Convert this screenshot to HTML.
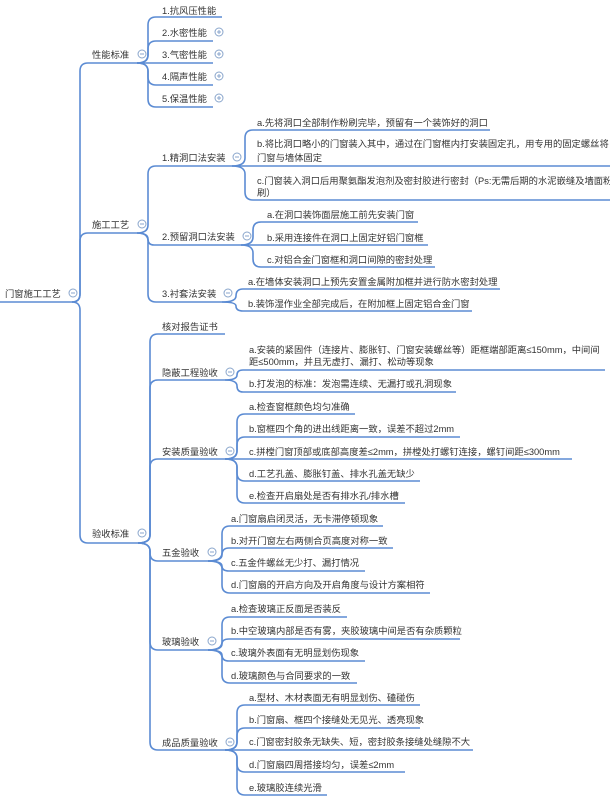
<!DOCTYPE html>
<html><head><meta charset="utf-8"><style>
html,body{margin:0;padding:0;background:#fff;}
svg{display:block;}
text{font-family:"Liberation Sans","Noto Sans CJK SC",sans-serif;font-size:9.3px;fill:#333;}
.l{fill:none;stroke:#5b8bd3;stroke-width:1.6;}
.c{fill:#fff;stroke:#8aa6cc;stroke-width:1;}
.m{stroke:#8aa6cc;stroke-width:1;}
</style></head><body>
<svg width="610" height="801" viewBox="0 0 610 801" xmlns="http://www.w3.org/2000/svg">
<g class="l">
<path d="M0,302 H72"/>
<path d="M72,302 Q80,302 80,294 V71 Q80,63 88,63 H137"/>
<path d="M72,302 Q80,302 80,294 V241 Q80,233 88,233 H137"/>
<path d="M72,302 Q80,302 80,310 V535 Q80,543 88,543 H138"/>
<path d="M137,63 Q148,63 148,55 V25 Q148,17 156,17 H222"/>
<path d="M137,63 Q148,63 148,55 V49 Q148,41 156,41 H213"/>
<path d="M137,63 H213"/>
<path d="M137,63 Q148,63 148,71 V77 Q148,85 156,85 H213"/>
<path d="M137,63 Q148,63 148,71 V99 Q148,107 156,107 H213"/>
<path d="M137,233 Q148,233 148,225 V174 Q148,166 156,166 H232"/>
<path d="M137,233 Q148,233 148,239 Q148,245 154,245 H241"/>
<path d="M137,233 Q148,233 148,241 V294 Q148,302 156,302 H222"/>
<path d="M232,166 Q245,166 245,158 V138 Q245,130 253,130 H490"/>
<path d="M232,166 H610"/>
<path d="M232,166 Q245,166 245,174 V192 Q245,200 253,200 H610"/>
<path d="M241,245 Q253,245 253,237 V230 Q253,222 261,222 H418"/>
<path d="M241,245 H428"/>
<path d="M241,245 Q253,245 253,253 V259 Q253,267 261,267 H435"/>
<path d="M222,302 Q236,302 236,296 Q236,289 243,289 H500"/>
<path d="M222,302 Q236,302 236,306 Q236,311 243,311 H472"/>
<path d="M138,543 Q150,543 150,535 V342 Q150,334 158,334 H225"/>
<path d="M138,543 Q150,543 150,535 V388 Q150,380 158,380 H225"/>
<path d="M138,543 Q150,543 150,535 V467 Q150,459 158,459 H225"/>
<path d="M138,543 Q150,543 150,551 V553 Q150,561 158,561 H208"/>
<path d="M138,543 Q150,543 150,551 V642 Q150,650 158,650 H208"/>
<path d="M138,543 Q150,543 150,551 V742 Q150,750 158,750 H225"/>
<path d="M225,380 Q237,380 237,375 Q237,370 243,370 H605"/>
<path d="M225,380 Q237,380 237,386 Q237,392 243,392 H456"/>
<path d="M225,459 Q237,459 237,451 V422 Q237,414 245,414 H355"/>
<path d="M225,459 Q237,459 237,451 V445 Q237,437 245,437 H460"/>
<path d="M225,459 H572"/>
<path d="M225,459 Q237,459 237,467 V473 Q237,481 245,481 H420"/>
<path d="M225,459 Q237,459 237,467 V495 Q237,503 245,503 H405"/>
<path d="M208,561 Q222,561 222,553 V534 Q222,526 230,526 H383"/>
<path d="M208,561 Q222,561 222,555 Q222,548 229,548 H393"/>
<path d="M208,561 Q222,561 222,566 Q222,571 229,571 H365"/>
<path d="M208,561 Q222,561 222,569 V585 Q222,593 230,593 H430"/>
<path d="M208,650 Q222,650 222,642 V625 Q222,617 230,617 H347"/>
<path d="M208,650 Q222,650 222,644 Q222,639 229,639 H460"/>
<path d="M208,650 Q222,650 222,655 Q222,661 229,661 H365"/>
<path d="M208,650 Q222,650 222,658 V675 Q222,683 230,683 H357"/>
<path d="M225,750 Q237,750 237,742 V713 Q237,705 245,705 H420"/>
<path d="M225,750 Q237,750 237,742 V736 Q237,728 245,728 H420"/>
<path d="M225,750 H473"/>
<path d="M225,750 Q237,750 237,758 V764 Q237,772 245,772 H405"/>
<path d="M225,750 Q237,750 237,758 V787 Q237,795 245,795 H327"/>
</g>
<g>
<circle class="c" cx="73" cy="293" r="4"/><line class="m" x1="71" y1="293" x2="75" y2="293"/>
<circle class="c" cx="142" cy="54" r="4"/><line class="m" x1="140" y1="54" x2="144" y2="54"/>
<circle class="c" cx="142" cy="224" r="4"/><line class="m" x1="140" y1="224" x2="144" y2="224"/>
<circle class="c" cx="142" cy="533" r="4"/><line class="m" x1="140" y1="533" x2="144" y2="533"/>
<circle class="c" cx="219" cy="32" r="4"/><path class="m" d="M217,32H221M219,30V34"/>
<circle class="c" cx="219" cy="54" r="4"/><path class="m" d="M217,54H221M219,52V56"/>
<circle class="c" cx="219" cy="76" r="4"/><path class="m" d="M217,76H221M219,74V78"/>
<circle class="c" cx="219" cy="98" r="4"/><path class="m" d="M217,98H221M219,96V100"/>
<circle class="c" cx="237" cy="157" r="4"/><line class="m" x1="235" y1="157" x2="239" y2="157"/>
<circle class="c" cx="247" cy="236" r="4"/><line class="m" x1="245" y1="236" x2="249" y2="236"/>
<circle class="c" cx="228" cy="293" r="4"/><line class="m" x1="226" y1="293" x2="230" y2="293"/>
<circle class="c" cx="230" cy="372" r="4"/><line class="m" x1="228" y1="372" x2="232" y2="372"/>
<circle class="c" cx="230" cy="451" r="4"/><line class="m" x1="228" y1="451" x2="232" y2="451"/>
<circle class="c" cx="212" cy="552" r="4"/><line class="m" x1="210" y1="552" x2="214" y2="552"/>
<circle class="c" cx="212" cy="641" r="4"/><line class="m" x1="210" y1="641" x2="214" y2="641"/>
<circle class="c" cx="230" cy="742" r="4"/><line class="m" x1="228" y1="742" x2="232" y2="742"/>
</g>
<g>
<text x="5" y="297">门窗施工工艺</text>
<text x="92" y="58">性能标准</text>
<text x="92" y="228">施工工艺</text>
<text x="92" y="537">验收标准</text>
<text x="162" y="14">1.抗风压性能</text>
<text x="162" y="36">2.水密性能</text>
<text x="162" y="58">3.气密性能</text>
<text x="162" y="80">4.隔声性能</text>
<text x="162" y="102">5.保温性能</text>
<text x="162" y="161">1.精洞口法安装</text>
<text x="162" y="240">2.预留洞口法安装</text>
<text x="162" y="297">3.衬套法安装</text>
<text x="257" y="126">a.先将洞口全部制作粉刷完毕，预留有一个装饰好的洞口</text>
<text x="257" y="147">b.将比洞口略小的门窗装入其中，通过在门窗框内打安装固定孔，用专用的固定螺丝将</text>
<text x="257" y="161">门窗与墙体固定</text>
<text x="257" y="184">c.门窗装入洞口后用聚氨酯发泡剂及密封胶进行密封（Ps:无需后期的水泥嵌缝及墙面粉</text>
<text x="257" y="196">刷）</text>
<text x="267" y="218">a.在洞口装饰面层施工前先安装门窗</text>
<text x="267" y="241">b.采用连接件在洞口上固定好铝门窗框</text>
<text x="267" y="263">c.对铝合金门窗框和洞口间隙的密封处理</text>
<text x="248" y="285">a.在墙体安装洞口上预先安置金属附加框并进行防水密封处理</text>
<text x="248" y="307">b.装饰湿作业全部完成后，在附加框上固定铝合金门窗</text>
<text x="162" y="330">核对报告证书</text>
<text x="162" y="376">隐蔽工程验收</text>
<text x="162" y="455">安装质量验收</text>
<text x="162" y="556">五金验收</text>
<text x="162" y="645">玻璃验收</text>
<text x="162" y="746">成品质量验收</text>
<text x="249" y="353">a.安装的紧固件（连接片、膨胀钉、门窗安装螺丝等）距框端部距离≤150mm，中间间</text>
<text x="249" y="365">距≤500mm，并且无虚打、漏打、松动等现象</text>
<text x="249" y="387">b.打发泡的标准：发泡需连续、无漏打或孔洞现象</text>
<text x="249" y="410">a.检查窗框颜色均匀准确</text>
<text x="249" y="432">b.窗框四个角的进出线距离一致，误差不超过2mm</text>
<text x="249" y="455">c.拼樘门窗顶部或底部高度差≤2mm，拼樘处打螺钉连接，螺钉间距≤300mm</text>
<text x="249" y="477">d.工艺孔盖、膨胀钉盖、排水孔盖无缺少</text>
<text x="249" y="499">e.检查开启扇处是否有排水孔/排水槽</text>
<text x="231" y="522">a.门窗扇启闭灵活，无卡滞停顿现象</text>
<text x="231" y="544">b.对开门窗左右两侧合页高度对称一致</text>
<text x="231" y="566">c.五金件螺丝无少打、漏打情况</text>
<text x="231" y="588">d.门窗扇的开启方向及开启角度与设计方案相符</text>
<text x="231" y="612">a.检查玻璃正反面是否装反</text>
<text x="231" y="634">b.中空玻璃内部是否有雾，夹胶玻璃中间是否有杂质颗粒</text>
<text x="231" y="656">c.玻璃外表面有无明显划伤现象</text>
<text x="231" y="679">d.玻璃颜色与合同要求的一致</text>
<text x="249" y="701">a.型材、木材表面无有明显划伤、磕碰伤</text>
<text x="249" y="723">b.门窗扇、框四个接缝处无见光、透亮现象</text>
<text x="249" y="745">c.门窗密封胶条无缺失、短，密封胶条接缝处缝隙不大</text>
<text x="249" y="768">d.门窗扇四周搭接均匀，误差≤2mm</text>
<text x="249" y="791">e.玻璃胶连续光滑</text>
</g>
</svg>
</body></html>
